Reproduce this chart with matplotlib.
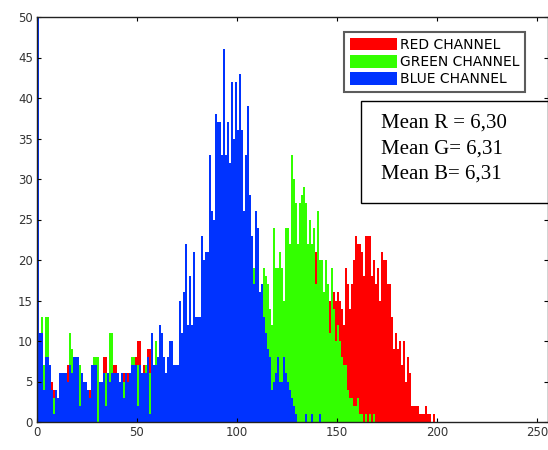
import numpy as np
import matplotlib
matplotlib.use('Agg')
import matplotlib.pyplot as plt
from matplotlib.patches import Patch, Rectangle

# histogram counts per intensity level (0..255)
red = [60, 10, 10, 7, 10, 7, 5, 5, 4, 3,
       3, 5, 5, 5, 6, 7, 7, 6, 7, 8,
       8, 6, 5, 5, 4, 4, 4, 5, 7, 6,
       5, 4, 5, 8, 8, 6, 6, 7, 7, 7,
       6, 5, 5, 6, 5, 6, 6, 6, 7, 8,
       10, 10, 6, 7, 7, 9, 9, 8, 7, 8,
       7, 7, 8, 7, 6, 7, 8, 8, 7, 6,
       6, 7, 8, 8, 9, 9, 9, 10, 9, 10,
       10, 11, 11, 11, 12, 12, 12, 13, 13, 13,
       14, 14, 14, 15, 15, 15, 14, 15, 14, 14,
       13, 13, 12, 12, 11, 11, 10, 10, 9, 9,
       8, 8, 7, 7, 6, 6, 5, 5, 4, 4,
       4, 3, 3, 3, 3, 3, 4, 5, 6, 7,
       8, 8, 9, 10, 11, 12, 12, 13, 13, 21,
       14, 13, 14, 15, 14, 15, 15, 12, 16, 15,
       16, 15, 14, 12, 19, 17, 14, 17, 20, 23,
       22, 22, 21, 18, 23, 23, 23, 18, 20, 17,
       19, 15, 21, 20, 20, 17, 17, 13, 9, 11,
       9, 10, 7, 10, 5, 8, 6, 2, 2, 2,
       2, 1, 1, 1, 2, 1, 1, 0, 1, 0] + [0] * 56

green = [60, 11, 13, 7, 13, 13, 7, 3, 3, 2,
         1, 3, 5, 5, 5, 4, 11, 9, 7, 6,
         6, 7, 5, 4, 4, 4, 3, 5, 8, 8,
         8, 4, 4, 5, 6, 5, 11, 11, 5, 6,
         5, 5, 4, 5, 5, 5, 5, 8, 8, 5,
         7, 5, 5, 5, 7, 7, 6, 7, 6, 10,
         6, 7, 7, 7, 6, 7, 10, 10, 7, 6,
         6, 7, 8, 8, 9, 9, 10, 9, 10, 11,
         11, 12, 12, 13, 13, 14, 14, 15, 15, 16,
         16, 17, 17, 18, 17, 18, 19, 18, 19, 19,
         20, 19, 20, 19, 20, 18, 19, 19, 19, 14,
         13, 15, 16, 19, 18, 17, 14, 12, 24, 19,
         19, 21, 19, 15, 24, 24, 22, 33, 30, 27,
         22, 27, 28, 29, 27, 22, 25, 22, 24, 17,
         26, 20, 20, 16, 20, 17, 11, 19, 14, 10,
         12, 10, 8, 7, 7, 4, 3, 3, 2, 2,
         3, 1, 1, 0, 1, 0, 1, 0, 1, 0] + [0] * 86

blue = [60, 11, 11, 4, 8, 8, 7, 4, 1, 4,
        3, 6, 6, 6, 6, 5, 7, 6, 8, 8,
        8, 2, 6, 5, 5, 4, 3, 7, 7, 7,
        0, 5, 5, 6, 2, 6, 5, 6, 6, 6,
        6, 5, 6, 3, 6, 5, 6, 7, 7, 7,
        2, 7, 6, 6, 6, 8, 1, 11, 7, 7,
        8, 12, 11, 8, 6, 8, 10, 10, 7, 7,
        7, 15, 11, 16, 22, 12, 18, 12, 21, 13,
        13, 13, 23, 20, 21, 21, 33, 26, 25, 38,
        37, 37, 33, 46, 33, 37, 32, 42, 35, 42,
        36, 43, 36, 26, 33, 39, 28, 23, 17, 26,
        24, 16, 17, 13, 11, 9, 8, 4, 5, 6,
        8, 5, 5, 8, 6, 5, 4, 3, 2, 1,
        0, 0, 0, 0, 1, 0, 0, 1, 0, 0,
        0, 1] + [0] * 114

labels = ['RED CHANNEL', 'GREEN CHANNEL', 'BLUE CHANNEL']
means = ['Mean R = 6,30', 'Mean G= 6,31', 'Mean B= 6,31']
colors = ['#ff0000', '#33ff00', '#0033ff']

edges = np.arange(257)

fig = plt.figure(figsize=(5.48, 4.5), dpi=100)
ax = fig.add_axes([37 / 548, 28 / 450, 511 / 548, 405 / 450])

for vals, c in zip([red, green, blue], colors):
    ax.stairs(vals, edges, fill=True, color=c, linewidth=0)

ax.set_xlim(0, 255.5)
ax.set_ylim(0, 50)
ax.set_xticks(np.arange(0, 251, 50))
ax.set_yticks(np.arange(0, 51, 5))
ax.tick_params(direction='in', top=True, right=True, length=3, width=0.8,
               labelsize=8.5, labelcolor='#333333', pad=3)
for s in ax.spines.values():
    s.set_linewidth(1.0)
    s.set_color('#222222')

handles = [Patch(facecolor=c, edgecolor='none') for c in colors]
leg = ax.legend(handles, labels, loc='upper left', bbox_to_anchor=(0.601, 0.963),
                borderaxespad=0, fancybox=False,
                handlelength=3.4, handleheight=1.05, labelspacing=0.22,
                borderpad=0.4, handletextpad=0.25,
                prop={'family': 'DejaVu Sans', 'size': 10})
leg.get_frame().set_edgecolor('#333333')
leg.get_frame().set_linewidth(1.5)

ax.add_patch(Rectangle((0.634, 0.541), 0.366, 0.252, transform=ax.transAxes,
                       facecolor='white', edgecolor='black', linewidth=1.0,
                       clip_on=False, zorder=5))
for yy, t in zip([0.738, 0.674, 0.612], means):
    ax.text(0.673, yy, t, transform=ax.transAxes, va='center', ha='left',
            family='Liberation Serif', fontsize=15, zorder=6)

plt.savefig('out.png', dpi=100)
